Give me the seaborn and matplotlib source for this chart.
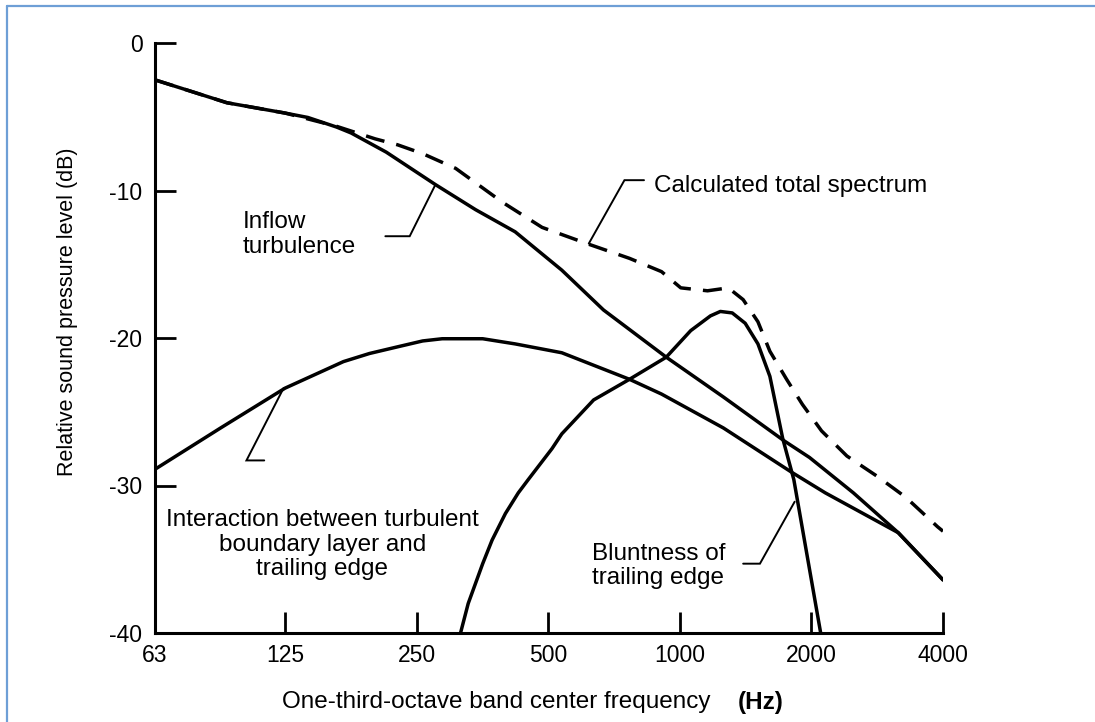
import matplotlib
matplotlib.use("Agg")
import matplotlib.pyplot as plt
import seaborn as sns
from matplotlib.lines import Line2D
from matplotlib.ticker import NullLocator

# ---------------- data ----------------
tick_freqs = [63, 125, 250, 500, 1000, 2000, 4000]
tick_labels = ["63", "125", "250", "500", "1000", "2000", "4000"]
y_ticks = [0, -10, -20, -30, -40]

inflow_f = [63, 92, 125, 141, 164, 177, 213, 276, 341, 420, 537, 669, 931, 1258, 1738, 1980, 2495, 3160, 4000]
inflow_db = [-2.5, -4.05, -4.75, -5.05, -5.7, -6.1, -7.4, -9.6, -11.3, -12.8, -15.4, -18.1, -21.3, -24.0,
             -27.0, -28.1, -30.5, -33.2, -36.4]

interact_f = [63, 89, 125, 170, 195, 226, 258, 286, 354, 420, 537, 767, 908, 1258, 1802, 2152, 3160, 4000]
interact_db = [-28.9, -26.1, -23.4, -21.6, -21.05, -20.6, -20.2, -20.05, -20.05, -20.4, -21.0, -22.8, -23.8,
               -26.1, -29.1, -30.5, -33.2, -36.4]

blunt_f = [315, 328, 354, 372, 399, 427, 450, 510, 537, 635, 767, 931, 1059, 1175, 1238, 1318, 1411, 1509,
           1607, 1719, 1823, 2100]
blunt_db = [-40, -38.0, -35.3, -33.7, -31.9, -30.5, -29.6, -27.5, -26.5, -24.2, -22.8, -21.3, -19.5, -18.5,
            -18.2, -18.3, -19.0, -20.4, -22.6, -26.8, -29.6, -40]

total_f = [63, 92, 125, 164, 201, 226, 258, 307, 393, 484, 613, 767, 908, 1005, 1157, 1291, 1396,
           1509, 1607, 1755, 1907, 2110, 2411, 2836, 3288, 3888, 4000]
total_db = [-2.5, -4.05, -4.75, -5.65, -6.5, -6.9, -7.5, -8.5, -10.8, -12.5, -13.6, -14.6, -15.5, -16.6,
            -16.8, -16.6, -17.4, -18.9, -20.9, -22.8, -24.5, -26.3, -28.0, -29.4, -30.8, -32.8, -33.1]

# annotation texts and leader lines (freq, dB)
lbl_inflow = "Inflow\nturbulence"
lbl_total = "Calculated total spectrum"
lbl_interact = "Interaction between turbulent\nboundary layer and\ntrailing edge"
lbl_blunt = "Bluntness of\ntrailing edge"

lead_inflow_f, lead_inflow_db = [212, 241, 276], [-13.1, -13.1, -9.6]
lead_total_f, lead_total_db = [828, 747, 619], [-9.3, -9.3, -13.6]
lead_interact_f, lead_interact_db = [112, 102, 124], [-28.3, -28.3, -23.4]
lead_blunt_f, lead_blunt_db = [1396, 1525, 1831], [-35.3, -35.3, -31.1]

# ---------------- plotting ----------------
sns.set_style("white")
plt.rcParams["font.family"] = ["Liberation Sans", "DejaVu Sans"]
plt.rcParams["text.color"] = "black"

W, H = 1095, 722
fig = plt.figure(figsize=(W / 100, H / 100), dpi=100)
ax = fig.add_axes([155 / W, 1 - 633 / H, (943 - 155) / W, (633 - 43) / H])

curve_lw = 2.5
for f, d in [(inflow_f, inflow_db), (interact_f, interact_db), (blunt_f, blunt_db)]:
    sns.lineplot(x=f, y=d, ax=ax, color="black", lw=curve_lw, estimator=None, sort=False)
sns.lineplot(x=total_f, y=total_db, ax=ax, color="black", lw=curve_lw, estimator=None, sort=False)
ax.lines[-1].set_linestyle((0, (5.5, 3.5)))
for ln in ax.lines:
    ln.set_solid_joinstyle("round")

for f, d in [(lead_inflow_f, lead_inflow_db), (lead_total_f, lead_total_db),
             (lead_interact_f, lead_interact_db), (lead_blunt_f, lead_blunt_db)]:
    ax.plot(f, d, color="black", lw=1.4, solid_joinstyle="miter")

txt_kw = dict(fontsize=17.5, color="black", linespacing=1.15)
ax.text(100, -13.0, lbl_inflow, ha="left", va="center", **txt_kw)
ax.text(871, -9.7, lbl_total, ha="left", va="center", **txt_kw)
ax.text(152, -34.0, lbl_interact, ha="center", va="center", multialignment="center", **txt_kw)
ax.text(630, -35.45, lbl_blunt, ha="left", va="center", **txt_kw)

ax.set_xscale("log")
ax.set_xlim(63, 4000)
ax.set_ylim(-40, 0)
ax.set_xticks(tick_freqs)
ax.set_xticklabels(tick_labels)
ax.xaxis.set_minor_locator(NullLocator())
ax.set_yticks(y_ticks)
ax.set_yticklabels([str(v) for v in y_ticks])
ax.set_xlabel("")
ax.set_ylabel("")

for s in ["top", "right"]:
    ax.spines[s].set_visible(False)
for s in ["left", "bottom"]:
    ax.spines[s].set_linewidth(2.2)
    ax.spines[s].set_color("black")
ax.tick_params(axis="both", which="major", direction="in", length=15, width=2, labelsize=16.5,
               colors="black", bottom=True, left=True, top=False, right=False)
ax.tick_params(axis="y", pad=9)
ax.tick_params(axis="x", pad=8)

fig.text(282 / W, 1 - 702 / H, "One-third-octave band center frequency", ha="left", va="center",
         fontsize=17.5, color="black")
fig.text(738 / W, 1 - 702 / H, "(Hz)", ha="left", va="center", fontsize=17.5, fontweight="bold",
         color="black")
fig.text(68 / W, 1 - 312 / H, "Relative sound pressure level (dB)", rotation=90, ha="center",
         va="center", fontsize=15.5, color="black")

border = "#6e9fd6"
fig.add_artist(Line2D([7 / W, 7 / W], [0, 1 - 6 / H], transform=fig.transFigure, color=border, lw=1.6))
fig.add_artist(Line2D([7 / W, 1], [1 - 6 / H, 1 - 6 / H], transform=fig.transFigure, color=border, lw=1.6))

fig.savefig("out.png", dpi=100, facecolor="white")
